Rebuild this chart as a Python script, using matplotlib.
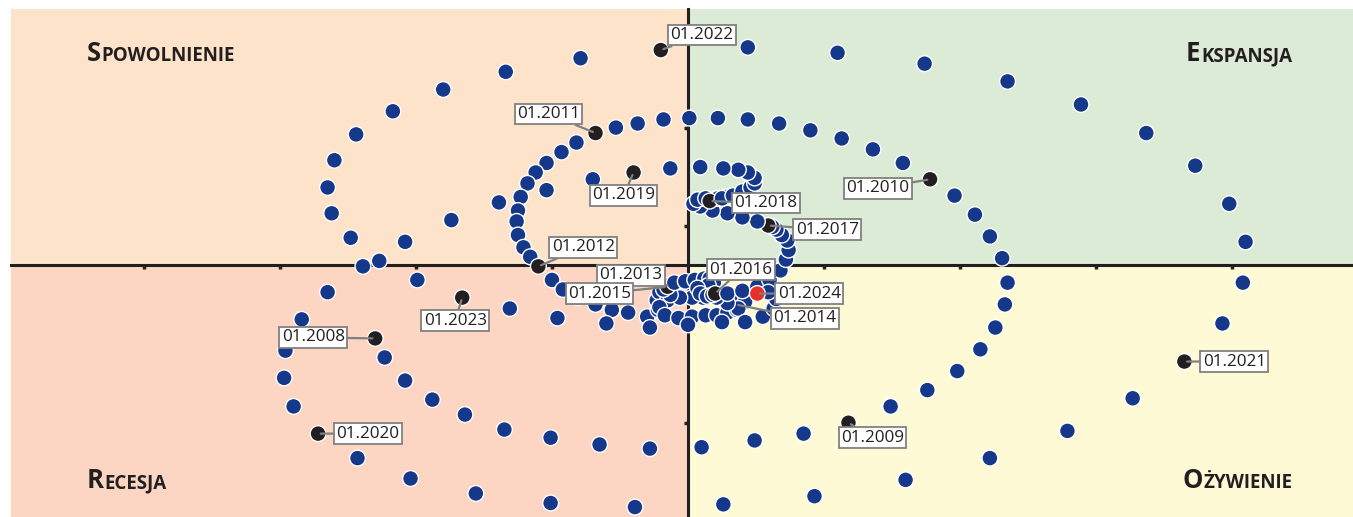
import matplotlib
matplotlib.use("Agg")
import matplotlib.pyplot as plt
from matplotlib.patches import Rectangle

# ---------------- data (standardised deviations; one list per year, Jan..Dec) ----------------
x2008 = [-2.30, -2.23, -2.08, -1.88, -1.64, -1.35, -1.01, -0.65, -0.28, 0.10, 0.49, 0.85]
y2008 = [-0.54, -0.68, -0.85, -0.99, -1.10, -1.21, -1.27, -1.32, -1.35, -1.34, -1.29, -1.24]
x2009 = [1.18, 1.49, 1.76, 1.98, 2.15, 2.26, 2.33, 2.35, 2.31, 2.22, 2.11, 1.96]
y2009 = [-1.16, -1.04, -0.92, -0.78, -0.62, -0.46, -0.29, -0.13, 0.05, 0.21, 0.37, 0.51]
x2010 = [1.78, 1.58, 1.36, 1.13, 0.90, 0.67, 0.44, 0.22, 0.01, -0.18, -0.37, -0.53]
y2010 = [0.63, 0.75, 0.85, 0.93, 0.99, 1.04, 1.07, 1.08, 1.08, 1.07, 1.04, 1.01]
x2011 = [-0.68, -0.82, -0.93, -1.04, -1.12, -1.18, -1.23, -1.25, -1.26, -1.25, -1.21, -1.16]
y2011 = [0.97, 0.90, 0.83, 0.75, 0.68, 0.60, 0.50, 0.40, 0.32, 0.22, 0.13, 0.06]
x2012 = [-1.10, -1.00, -0.92, -0.81, -0.68, -0.56, -0.44, -0.30, -0.22, -0.23, -0.21, -0.18]
y2012 = [-0.01, -0.11, -0.18, -0.24, -0.29, -0.33, -0.35, -0.38, -0.33, -0.26, -0.20, -0.17]
x2013 = [-0.15, -0.12, -0.15, -0.21, -0.17, -0.07, 0.03, 0.13, 0.21, 0.29, 0.36, 0.38]
y2013 = [-0.15, -0.20, -0.26, -0.31, -0.37, -0.39, -0.38, -0.37, -0.37, -0.35, -0.33, -0.30]
x2014 = [0.35, 0.29, 0.37, 0.42, 0.37, 0.29, 0.21, 0.11, 0.03, -0.06, -0.13, -0.18]
y2014 = [-0.29, -0.26, -0.24, -0.27, -0.32, -0.28, -0.24, -0.24, -0.24, -0.24, -0.22, -0.18]
x2015 = [-0.15, -0.10, -0.02, 0.05, 0.12, 0.16, 0.19, 0.15, 0.07, 0.09, 0.14, 0.18]
y2015 = [-0.16, -0.13, -0.12, -0.11, -0.10, -0.10, -0.13, -0.15, -0.17, -0.21, -0.23, -0.22]
x2016 = [0.20, 0.29, 0.40, 0.51, 0.60, 0.68, 0.72, 0.74, 0.73, 0.69, 0.65, 0.62]
y2016 = [-0.21, -0.21, -0.19, -0.16, -0.11, -0.04, 0.04, 0.11, 0.18, 0.22, 0.26, 0.28]
x2017 = [0.59, 0.51, 0.40, 0.29, 0.18, 0.09, 0.04, 0.07, 0.13, 0.21, 0.28, 0.22]
y2017 = [0.29, 0.32, 0.35, 0.38, 0.40, 0.43, 0.45, 0.48, 0.49, 0.49, 0.50, 0.49]
x2018 = [0.16, 0.25, 0.33, 0.40, 0.46, 0.49, 0.49, 0.44, 0.37, 0.26, 0.09, -0.13]
y2018 = [0.47, 0.49, 0.51, 0.54, 0.57, 0.60, 0.64, 0.68, 0.70, 0.71, 0.72, 0.71]
x2019 = [-0.40, -0.70, -1.04, -1.39, -1.74, -2.08, -2.39, -2.65, -2.84, -2.96, -2.97, -2.90]
y2019 = [0.68, 0.63, 0.55, 0.46, 0.33, 0.17, -0.01, -0.20, -0.40, -0.63, -0.83, -1.04]
x2020 = [-2.72, -2.43, -2.04, -1.56, -1.01, -0.39, 0.26, 0.93, 1.60, 2.22, 2.79, 3.27]
y2020 = [-1.24, -1.42, -1.57, -1.68, -1.75, -1.78, -1.76, -1.70, -1.58, -1.42, -1.22, -0.98]
x2021 = [3.65, 3.93, 4.08, 4.10, 3.98, 3.73, 3.37, 2.89, 2.35, 1.74, 1.10, 0.44]
y2021 = [-0.71, -0.43, -0.13, 0.17, 0.45, 0.73, 0.97, 1.18, 1.35, 1.48, 1.56, 1.60]
x2022 = [-0.20, -0.79, -1.34, -1.80, -2.17, -2.44, -2.60, -2.65, -2.62, -2.48, -2.27, -1.99]
y2022 = [1.58, 1.52, 1.42, 1.29, 1.13, 0.96, 0.77, 0.57, 0.38, 0.20, 0.03, -0.11]
x2023 = [-1.66, -1.31, -0.96, -0.60, -0.28, 0.00, 0.25, 0.42, 0.55, 0.63, 0.65, 0.59]
y2023 = [-0.24, -0.32, -0.39, -0.43, -0.46, -0.44, -0.42, -0.42, -0.38, -0.32, -0.25, -0.20]
x2024 = [0.51]
y2024 = [-0.21]

series_x = [x2008, x2009, x2010, x2011, x2012, x2013, x2014, x2015, x2016,
            x2017, x2018, x2019, x2020, x2021, x2022, x2023, x2024]
series_y = [y2008, y2009, y2010, y2011, y2012, y2013, y2014, y2015, y2016,
            y2017, y2018, y2019, y2020, y2021, y2022, y2023, y2024]
label_years = list(range(2008, 2025))

quadrant_names = ["Spowolnienie", "Ekspansja", "Recesja", "Ożywienie"]

# ---------------- styling / layout ----------------
W, H = 1353, 517
fig = plt.figure(figsize=(W / 100, H / 100), dpi=100)
ax = fig.add_axes([11 / W, 0, (W - 11) / W, (H - 9) / H])
xmin, xmax = -4.978, 4.890
ymin, ymax = -1.853, 1.882
ax.set_xlim(xmin, xmax)
ax.set_ylim(ymin, ymax)

c_tl, c_tr, c_bl, c_br = "#fde3c9", "#dcebd5", "#fcd5c3", "#fffad6"
ax.add_patch(Rectangle((xmin, 0), -xmin, ymax, fc=c_tl, ec="none", zorder=0))
ax.add_patch(Rectangle((0, 0), xmax, ymax, fc=c_tr, ec="none", zorder=0))
ax.add_patch(Rectangle((xmin, ymin), -xmin, -ymin, fc=c_bl, ec="none", zorder=0))
ax.add_patch(Rectangle((0, ymin), xmax, -ymin, fc=c_br, ec="none", zorder=0))

for s in ["top", "right"]:
    ax.spines[s].set_visible(False)
for s in ["left", "bottom"]:
    ax.spines[s].set_position(("data", 0))
    ax.spines[s].set_color("#231f20")
    ax.spines[s].set_linewidth(2.2)
    ax.spines[s].set_zorder(2)
ax.set_xticks([-4, -3, -2, -1, 1, 2, 3, 4])
ax.set_yticks([-1.16, 0.29, 1.01])
ax.tick_params(direction="out", length=3, width=2.5, color="#231f20",
               labelbottom=False, labelleft=False)

# points in chronological order
px, py, pc = [], [], []
for yr, xs, ys in zip(label_years, series_x, series_y):
    for i, (a, b) in enumerate(zip(xs, ys)):
        px.append(a)
        py.append(b)
        if i == 0:
            pc.append("#e8302a" if yr == label_years[-1] else "#231f20")
        else:
            pc.append("#16388a")
ax.scatter(px, py, s=130, c=pc, edgecolors="white", linewidths=1.0, zorder=3)

# January labels (offsets in pixels: label centre relative to point)
label_offsets = {
    2008: (-62, 1), 2009: (24, -15), 2010: (-52, -9), 2011: (-47, 19),
    2012: (45, 19), 2013: (-37, 10), 2014: (69, -14), 2015: (-68, -7),
    2016: (26, 24), 2017: (59, -4), 2018: (56, -2), 2019: (-10, -23),
    2020: (50, 0), 2021: (50, 0), 2022: (41, 15), 2023: (-7, -23),
    2024: (52, 0),
}
for yr, xs, ys in zip(label_years, series_x, series_y):
    dx, dy = label_offsets[yr]
    ax.annotate(f"01.{yr}", xy=(xs[0], ys[0]), xytext=(dx, dy),
                textcoords="offset pixels", ha="center", va="center",
                fontsize=12.3, family="Open Sans", color="#231f20",
                bbox=dict(boxstyle="square,pad=0.14", fc="white", ec="#808080", lw=1.3),
                arrowprops=dict(arrowstyle="-", color="#808080", lw=1.6,
                                shrinkA=0, shrinkB=2),
                zorder=6)

# quadrant titles in small caps
renderer = fig.canvas.get_renderer()
def smallcaps(word, x_px, base_px, align="left"):
    big, rest = word[0].upper(), word[1:].upper()
    kw = dict(family="Open Sans", weight="bold", color="#231f20", va="baseline",
              transform=None)
    t1 = fig.text(0, 0, big, fontsize=18.5, **kw)
    t2 = fig.text(0, 0, rest, fontsize=13.5, **kw)
    w1 = t1.get_window_extent(renderer).width
    w2 = t2.get_window_extent(renderer).width
    gap = 0.5
    x0 = x_px if align == "left" else x_px - (w1 + w2 + gap)
    yb = H - base_px
    t1.set_position((x0, yb))
    t2.set_position((x0 + w1 + gap, yb))

smallcaps(quadrant_names[0], 87, 61)
smallcaps(quadrant_names[1], 1292, 61, align="right")
smallcaps(quadrant_names[2], 87, 488)
smallcaps(quadrant_names[3], 1292, 488, align="right")

fig.savefig("out.png", dpi=100)
